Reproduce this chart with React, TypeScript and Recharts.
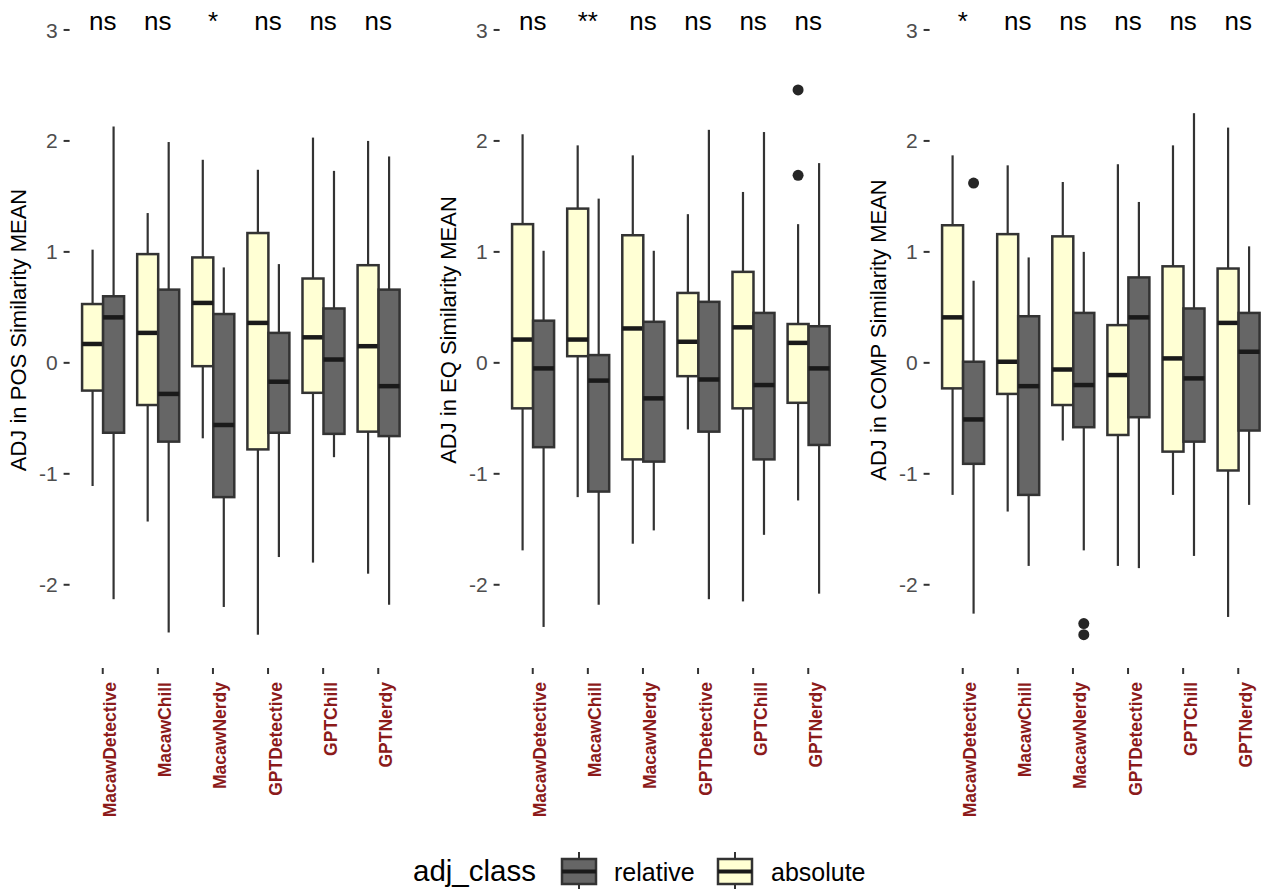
import React from 'react';
import { ComposedChart, Bar, Scatter, XAxis, YAxis } from 'recharts';

const categories = ['MacawDetective', 'MacawChill', 'MacawNerdy', 'GPTDetective', 'GPTChill', 'GPTNerdy'];
const yTicks = [-2, -1, 0, 1, 2, 3];
const sigY = 3;

// box stats: [min, q1, median, q3, max]
const posAbsolute = [
  [-1.11, -0.25, 0.17, 0.53, 1.02],
  [-1.43, -0.38, 0.27, 0.98, 1.35],
  [-0.68, -0.03, 0.54, 0.95, 1.83],
  [-2.45, -0.78, 0.36, 1.17, 1.74],
  [-1.8, -0.27, 0.23, 0.76, 2.03],
  [-1.9, -0.62, 0.15, 0.88, 2.0],
];
const posRelative = [
  [-2.13, -0.63, 0.41, 0.6, 2.13],
  [-2.43, -0.71, -0.28, 0.66, 1.99],
  [-2.2, -1.21, -0.56, 0.44, 0.86],
  [-1.75, -0.63, -0.17, 0.27, 0.89],
  [-0.85, -0.64, 0.03, 0.49, 1.73],
  [-2.18, -0.66, -0.21, 0.66, 1.86],
];
const posAbsoluteOutliers = [[], [], [], [], [], []];
const posRelativeOutliers = [[], [], [], [], [], []];
const posSig = ['ns', 'ns', '*', 'ns', 'ns', 'ns'];

const eqAbsolute = [
  [-1.69, -0.41, 0.21, 1.25, 2.06],
  [-1.21, 0.06, 0.21, 1.39, 1.96],
  [-1.63, -0.87, 0.31, 1.15, 1.87],
  [-0.6, -0.12, 0.19, 0.63, 1.34],
  [-2.15, -0.41, 0.32, 0.82, 1.54],
  [-1.24, -0.36, 0.18, 0.35, 1.25],
];
const eqRelative = [
  [-2.38, -0.76, -0.05, 0.38, 1.01],
  [-2.18, -1.16, -0.16, 0.07, 1.48],
  [-1.51, -0.89, -0.32, 0.37, 1.01],
  [-2.13, -0.62, -0.15, 0.55, 2.1],
  [-1.55, -0.87, -0.2, 0.45, 2.08],
  [-2.08, -0.74, -0.05, 0.33, 1.8],
];
const eqAbsoluteOutliers = [[], [], [], [], [], [2.46, 1.69]];
const eqRelativeOutliers = [[], [], [], [], [], []];
const eqSig = ['ns', '**', 'ns', 'ns', 'ns', 'ns'];

const compAbsolute = [
  [-1.19, -0.23, 0.41, 1.24, 1.87],
  [-1.34, -0.28, 0.01, 1.16, 1.78],
  [-0.7, -0.38, -0.06, 1.14, 1.63],
  [-1.83, -0.65, -0.11, 0.34, 1.79],
  [-1.19, -0.8, 0.04, 0.87, 1.96],
  [-2.29, -0.97, 0.36, 0.85, 2.12],
];
const compRelative = [
  [-2.26, -0.91, -0.51, 0.01, 0.74],
  [-1.83, -1.19, -0.21, 0.42, 0.95],
  [-1.69, -0.58, -0.2, 0.45, 1.0],
  [-1.85, -0.49, 0.41, 0.77, 1.45],
  [-1.74, -0.71, -0.14, 0.49, 2.25],
  [-1.28, -0.61, 0.1, 0.45, 1.05],
];
const compAbsoluteOutliers = [[], [], [], [], [], []];
const compRelativeOutliers = [[1.62], [], [-2.35, -2.45], [], [], []];
const compSig = ['*', 'ns', 'ns', 'ns', 'ns', 'ns'];

const panelTitles = ['ADJ in POS Similarity MEAN', 'ADJ in EQ Similarity MEAN', 'ADJ in COMP Similarity MEAN'];

const ABS_FILL = '#FFFFD4';
const REL_FILL = '#666666';
const LINE = '#333333';
const FONT = '"Liberation Sans", Arial, Helvetica, sans-serif';

function buildRows(abs: number[][], rel: number[][], absOut: number[][], relOut: number[][], sig: string[]) {
  return categories.map((name, i) => ({
    name,
    absRange: [abs[i][0], abs[i][4]],
    relRange: [rel[i][0], rel[i][4]],
    abs: abs[i],
    rel: rel[i],
    absOut: absOut[i],
    relOut: relOut[i],
    sig: sigY,
    sigLabel: sig[i],
  }));
}

const panels = [
  buildRows(posAbsolute, posRelative, posAbsoluteOutliers, posRelativeOutliers, posSig),
  buildRows(eqAbsolute, eqRelative, eqAbsoluteOutliers, eqRelativeOutliers, eqSig),
  buildRows(compAbsolute, compRelative, compAbsoluteOutliers, compRelativeOutliers, compSig),
];

function renderBox(props: any, key: 'abs' | 'rel', fill: string) {
  const { x, y, width, height, payload } = props;
  if (!payload) return <g />;
  const s: number[] = payload[key];
  const outs: number[] = payload[key + 'Out'];
  const [mn, q1, md, q3, mx] = s;
  const top = Math.min(y, y + height);
  const bot = Math.max(y, y + height);
  const py = (v: number) => bot - ((v - mn) / (mx - mn)) * (bot - top);
  const cx = x + width / 2;
  return (
    <g>
      <line x1={cx} x2={cx} y1={py(mx)} y2={py(q3)} stroke={LINE} strokeWidth={2.2} />
      <line x1={cx} x2={cx} y1={py(q1)} y2={py(mn)} stroke={LINE} strokeWidth={2.2} />
      <rect x={x} y={py(q3)} width={width} height={py(q1) - py(q3)} fill={fill} stroke={LINE} strokeWidth={2.5} />
      <line x1={x} x2={x + width} y1={py(md)} y2={py(md)} stroke="#1a1a1a" strokeWidth={4.5} />
      {outs.map((v, j) => (
        <circle key={j} cx={cx} cy={py(v)} r={5.5} fill="#262626" />
      ))}
    </g>
  );
}

const SigShape = (props: any) => {
  const { cx, cy, payload } = props;
  return (
    <text x={cx} y={cy} textAnchor="middle" fontSize={26} fill="#000" fontFamily={FONT}>
      {payload.sigLabel}
    </text>
  );
};

const XTick = (props: any) => {
  const { x, y, payload } = props;
  const tx = x + 13.5;
  const ty = y + 6;
  return (
    <text
      x={tx}
      y={ty}
      transform={`rotate(-90, ${tx}, ${ty})`}
      textAnchor="end"
      fontSize={17.5}
      fontWeight="bold"
      fill="#8B1A1A"
      fontFamily={FONT}
    >
      {payload.value}
    </text>
  );
};

const YTick = (props: any) => {
  const { x, y, payload } = props;
  return (
    <text x={x} y={y} dy="0.36em" textAnchor="end" fontSize={21} fill="#4D4D4D" fontFamily={FONT}>
      {payload.value}
    </text>
  );
};

function Panel({ data, left }: { data: any[]; left: number }) {
  return (
    <div style={{ position: 'absolute', left, top: 0 }}>
      <ComposedChart
        width={430}
        height={830}
        data={data}
        margin={{ top: 0, right: 18.6, bottom: 0, left: 9.6 }}
        barGap={0}
        barCategoryGap="12.5%"
      >
        <XAxis
          dataKey="name"
          interval={0}
          height={162}
          tickSize={6}
          axisLine={false}
          tickLine={{ stroke: LINE, strokeWidth: 2 }}
          padding={{ left: 5.6, right: 5.6 }}
          tick={<XTick />}
        />
        <YAxis
          width={60}
          domain={[-2.75, 3.27]}
          ticks={yTicks}
          allowDataOverflow
          axisLine={false}
          tickSize={6}
          tickMargin={6}
          tickLine={{ stroke: LINE, strokeWidth: 2 }}
          tick={<YTick />}
        />
        <Bar dataKey="absRange" isAnimationActive={false} shape={(p: any) => renderBox(p, 'abs', ABS_FILL)} />
        <Bar dataKey="relRange" isAnimationActive={false} shape={(p: any) => renderBox(p, 'rel', REL_FILL)} />
        <Scatter dataKey="sig" isAnimationActive={false} shape={<SigShape />} />
      </ComposedChart>
    </div>
  );
}

function LegendKey({ x, fill }: { x: number; fill: string }) {
  const w = 34;
  const top = 859;
  const bot = 884;
  return (
    <g>
      <line x1={x + w / 2} x2={x + w / 2} y1={852} y2={top} stroke={LINE} strokeWidth={2} />
      <line x1={x + w / 2} x2={x + w / 2} y1={bot} y2={890} stroke={LINE} strokeWidth={2} />
      <rect x={x} y={top} width={w} height={bot - top} fill={fill} stroke={LINE} strokeWidth={2.5} />
      <line x1={x} x2={x + w} y1={(top + bot) / 2} y2={(top + bot) / 2} stroke="#1a1a1a" strokeWidth={4} />
    </g>
  );
}

export default function App() {
  return (
    <div
      style={{
        position: 'absolute',
        left: 0,
        top: 0,
        width: 1270,
        height: 889,
        overflow: 'hidden',
        background: '#fff',
        fontFamily: FONT,
      }}
    >
      {panels.map((d, i) => (
        <Panel key={i} data={d} left={i * 430} />
      ))}
      <svg width={1270} height={889} style={{ position: 'absolute', left: 0, top: 0, pointerEvents: 'none' }}>
        {panelTitles.map((t, i) => {
          const x = 26 + i * 430;
          const y = 330;
          return (
            <text
              key={i}
              x={x}
              y={y}
              transform={`rotate(-90, ${x}, ${y})`}
              textAnchor="middle"
              fontSize={22}
              fill="#000"
              fontFamily={FONT}
            >
              {t}
            </text>
          );
        })}
        <text x={413} y={881} fontSize={29.5} fill="#000" fontFamily={FONT}>
          adj_class
        </text>
        <LegendKey x={562} fill={REL_FILL} />
        <text x={614} y={881} fontSize={25} fill="#000" fontFamily={FONT}>
          relative
        </text>
        <LegendKey x={718} fill={ABS_FILL} />
        <text x={771} y={881} fontSize={25} fill="#000" fontFamily={FONT}>
          absolute
        </text>
      </svg>
    </div>
  );
}
